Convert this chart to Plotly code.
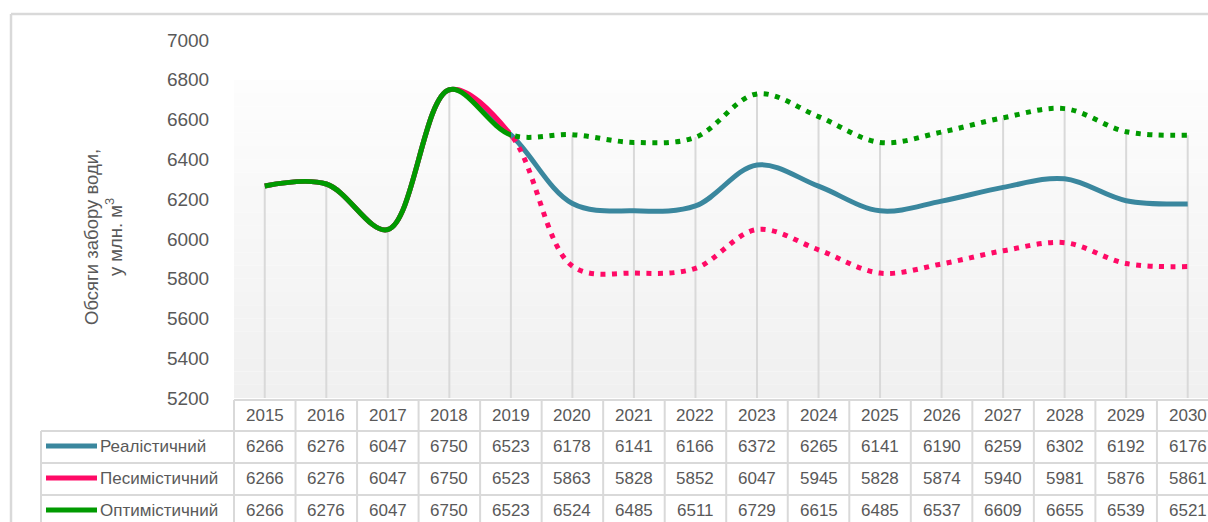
import plotly.graph_objects as go

years = list(range(2015, 2031))
realistic = [6266, 6276, 6047, 6750, 6523, 6178, 6141, 6166, 6372, 6265, 6141, 6190, 6259, 6302, 6192, 6176]
pessimistic = [6266, 6276, 6047, 6750, 6523, 5863, 5828, 5852, 6047, 5945, 5828, 5874, 5940, 5981, 5876, 5861]
optimistic = [6266, 6276, 6047, 6750, 6523, 6524, 6485, 6511, 6729, 6615, 6485, 6537, 6609, 6655, 6539, 6521]
names = ["Реалістичний", "Песимістичний", "Оптимістичний"]
colors = ["#3a879e", "#ff0a66", "#009a00"]
series = [realistic, pessimistic, optimistic]
split_year = 2019

W, H = 1208, 522
ML, MR, MT, MB = 234, 0, 40, 124
PW = W - ML - MR
PH = H - MT - MB
X0, X1 = 2014.5, 2030.33
Y0, Y1 = 5200, 7000
FONT = "Liberation Sans"
TXT = "#595959"
GRID = "#d9d9d9"


def xp(px):
    return (px - ML) / PW


def yp(py):
    return (H - MB - py) / PH


def year_to_paper(y):
    return (y - X0) / (X1 - X0)


d_split = year_to_paper(split_year)

fig = go.Figure()

# realistic: solid full
fig.add_trace(go.Scatter(x=years, y=realistic, mode="lines", name=names[0],
                         line=dict(color=colors[0], width=5, shape="spline", smoothing=1.0),
                         xaxis="x", yaxis="y", showlegend=False, hoverinfo="skip"))
# pessimistic & optimistic: dotted part (clipped after split), solid part (clipped before split)
for s, c, n in [(pessimistic, colors[1], names[1]), (optimistic, colors[2], names[2])]:
    fig.add_trace(go.Scatter(x=years, y=s, mode="lines", name=n,
                             line=dict(color=c, width=5, shape="spline", smoothing=1.0, dash="5px,6.5px"),
                             xaxis="x3", yaxis="y", showlegend=False, hoverinfo="skip"))
for s, c, n in [(pessimistic, colors[1], names[1]), (optimistic, colors[2], names[2])]:
    fig.add_trace(go.Scatter(x=years, y=s, mode="lines", name=n,
                             line=dict(color=c, width=5, shape="spline", smoothing=1.0),
                             xaxis="x2", yaxis="y", showlegend=False, hoverinfo="skip"))

shapes = []
# gradient background
nb = 24
for i in range(nb):
    t = i / (nb - 1)
    v = int(round(253 - 13 * t))
    ya = 6800 - 1600 * i / nb
    yb = 6800 - 1600 * (i + 1) / nb
    shapes.append(dict(type="rect", xref="paper", yref="y", x0=0, x1=1, y0=yb, y1=ya,
                       fillcolor=f"rgb({v},{v},{v})", line=dict(width=0), layer="below"))
# drop lines
for i, yr in enumerate(years):
    top = max(realistic[i], pessimistic[i], optimistic[i])
    shapes.append(dict(type="line", xref="x", yref="y", x0=yr, x1=yr, y0=Y0, y1=top,
                       line=dict(color=GRID, width=2), layer="below"))

# outer border
shapes.append(dict(type="line", xref="paper", yref="paper", x0=xp(11), x1=xp(W + 5), y0=yp(14), y1=yp(14),
                   line=dict(color=GRID, width=2.5)))
shapes.append(dict(type="line", xref="paper", yref="paper", x0=xp(11), x1=xp(11), y0=yp(14), y1=yp(H + 5),
                   line=dict(color=GRID, width=2.5)))

# table lines
row_y = [400, 431, 463, 495, 527]
shapes.append(dict(type="line", xref="paper", yref="paper", x0=xp(ML), x1=xp(W + 5), y0=yp(400), y1=yp(400),
                   line=dict(color=GRID, width=2)))
for ry in row_y[1:]:
    shapes.append(dict(type="line", xref="paper", yref="paper", x0=xp(41), x1=xp(W + 5), y0=yp(ry), y1=yp(ry),
                       line=dict(color=GRID, width=2)))
shapes.append(dict(type="line", xref="paper", yref="paper", x0=xp(41), x1=xp(41), y0=yp(431), y1=yp(H + 5),
                   line=dict(color=GRID, width=2)))
for k in range(len(years) + 1):
    bx = year_to_paper(years[0] - 0.5 + k)
    if bx > 1.01:
        continue
    shapes.append(dict(type="line", xref="paper", yref="paper", x0=bx, x1=bx, y0=yp(400), y1=yp(H + 5),
                       line=dict(color=GRID, width=2)))

annotations = []
row_centers = [415, 446, 478, 510]
for yr in years:
    annotations.append(dict(x=yr, xref="x", y=yp(row_centers[0]), yref="paper", text=str(yr),
                            showarrow=False, font=dict(family=FONT, size=17, color=TXT),
                            xanchor="center", yanchor="middle"))
for r, s in enumerate(series):
    cy = row_centers[r + 1]
    for yr, v in zip(years, s):
        annotations.append(dict(x=yr, xref="x", y=yp(cy), yref="paper", text=str(v),
                                showarrow=False, font=dict(family=FONT, size=17, color=TXT),
                                xanchor="center", yanchor="middle"))
    shapes.append(dict(type="line", xref="paper", yref="paper", x0=xp(46), x1=xp(97), y0=yp(cy), y1=yp(cy),
                       line=dict(color=colors[r], width=5)))
    annotations.append(dict(x=xp(98), xref="paper", y=yp(cy), yref="paper", text=names[r],
                            showarrow=False, font=dict(family=FONT, size=17, color=TXT),
                            xanchor="left", yanchor="middle"))

annotations.append(dict(x=xp(103), xref="paper", y=yp(237), yref="paper",
                        text="Обсяги забору води,<br>у млн. м<sup>3</sup>", textangle=-90,
                        showarrow=False, font=dict(family=FONT, size=18.5, color=TXT),
                        xanchor="center", yanchor="middle"))

fig.update_layout(
    width=W, height=H,
    margin=dict(l=ML, r=MR, t=MT, b=MB, pad=0),
    paper_bgcolor="white", plot_bgcolor="rgba(0,0,0,0)",
    xaxis=dict(range=[X0, X1], domain=[0, 1], showgrid=False, zeroline=False, showticklabels=False,
               showline=False, ticks="", fixedrange=True),
    xaxis2=dict(range=[X0, split_year], domain=[0, d_split], anchor="y", showgrid=False, zeroline=False,
                showticklabels=False, showline=False, ticks="", visible=False),
    xaxis3=dict(range=[split_year, X1], domain=[d_split, 1], anchor="y", showgrid=False, zeroline=False,
                showticklabels=False, showline=False, ticks="", visible=False),
    yaxis=dict(range=[Y0, Y1], tickvals=list(range(5200, 7001, 200)), showgrid=False, zeroline=False,
               showline=False, ticks="outside", ticklen=20, tickcolor="rgba(0,0,0,0)",
               tickfont=dict(family=FONT, size=19, color=TXT)),
    shapes=shapes, annotations=annotations, showlegend=False,
)

fig.write_html("out.html", config={"displayModeBar": False},
               post_script="document.body.style.margin='0';document.body.style.overflow='hidden';")
